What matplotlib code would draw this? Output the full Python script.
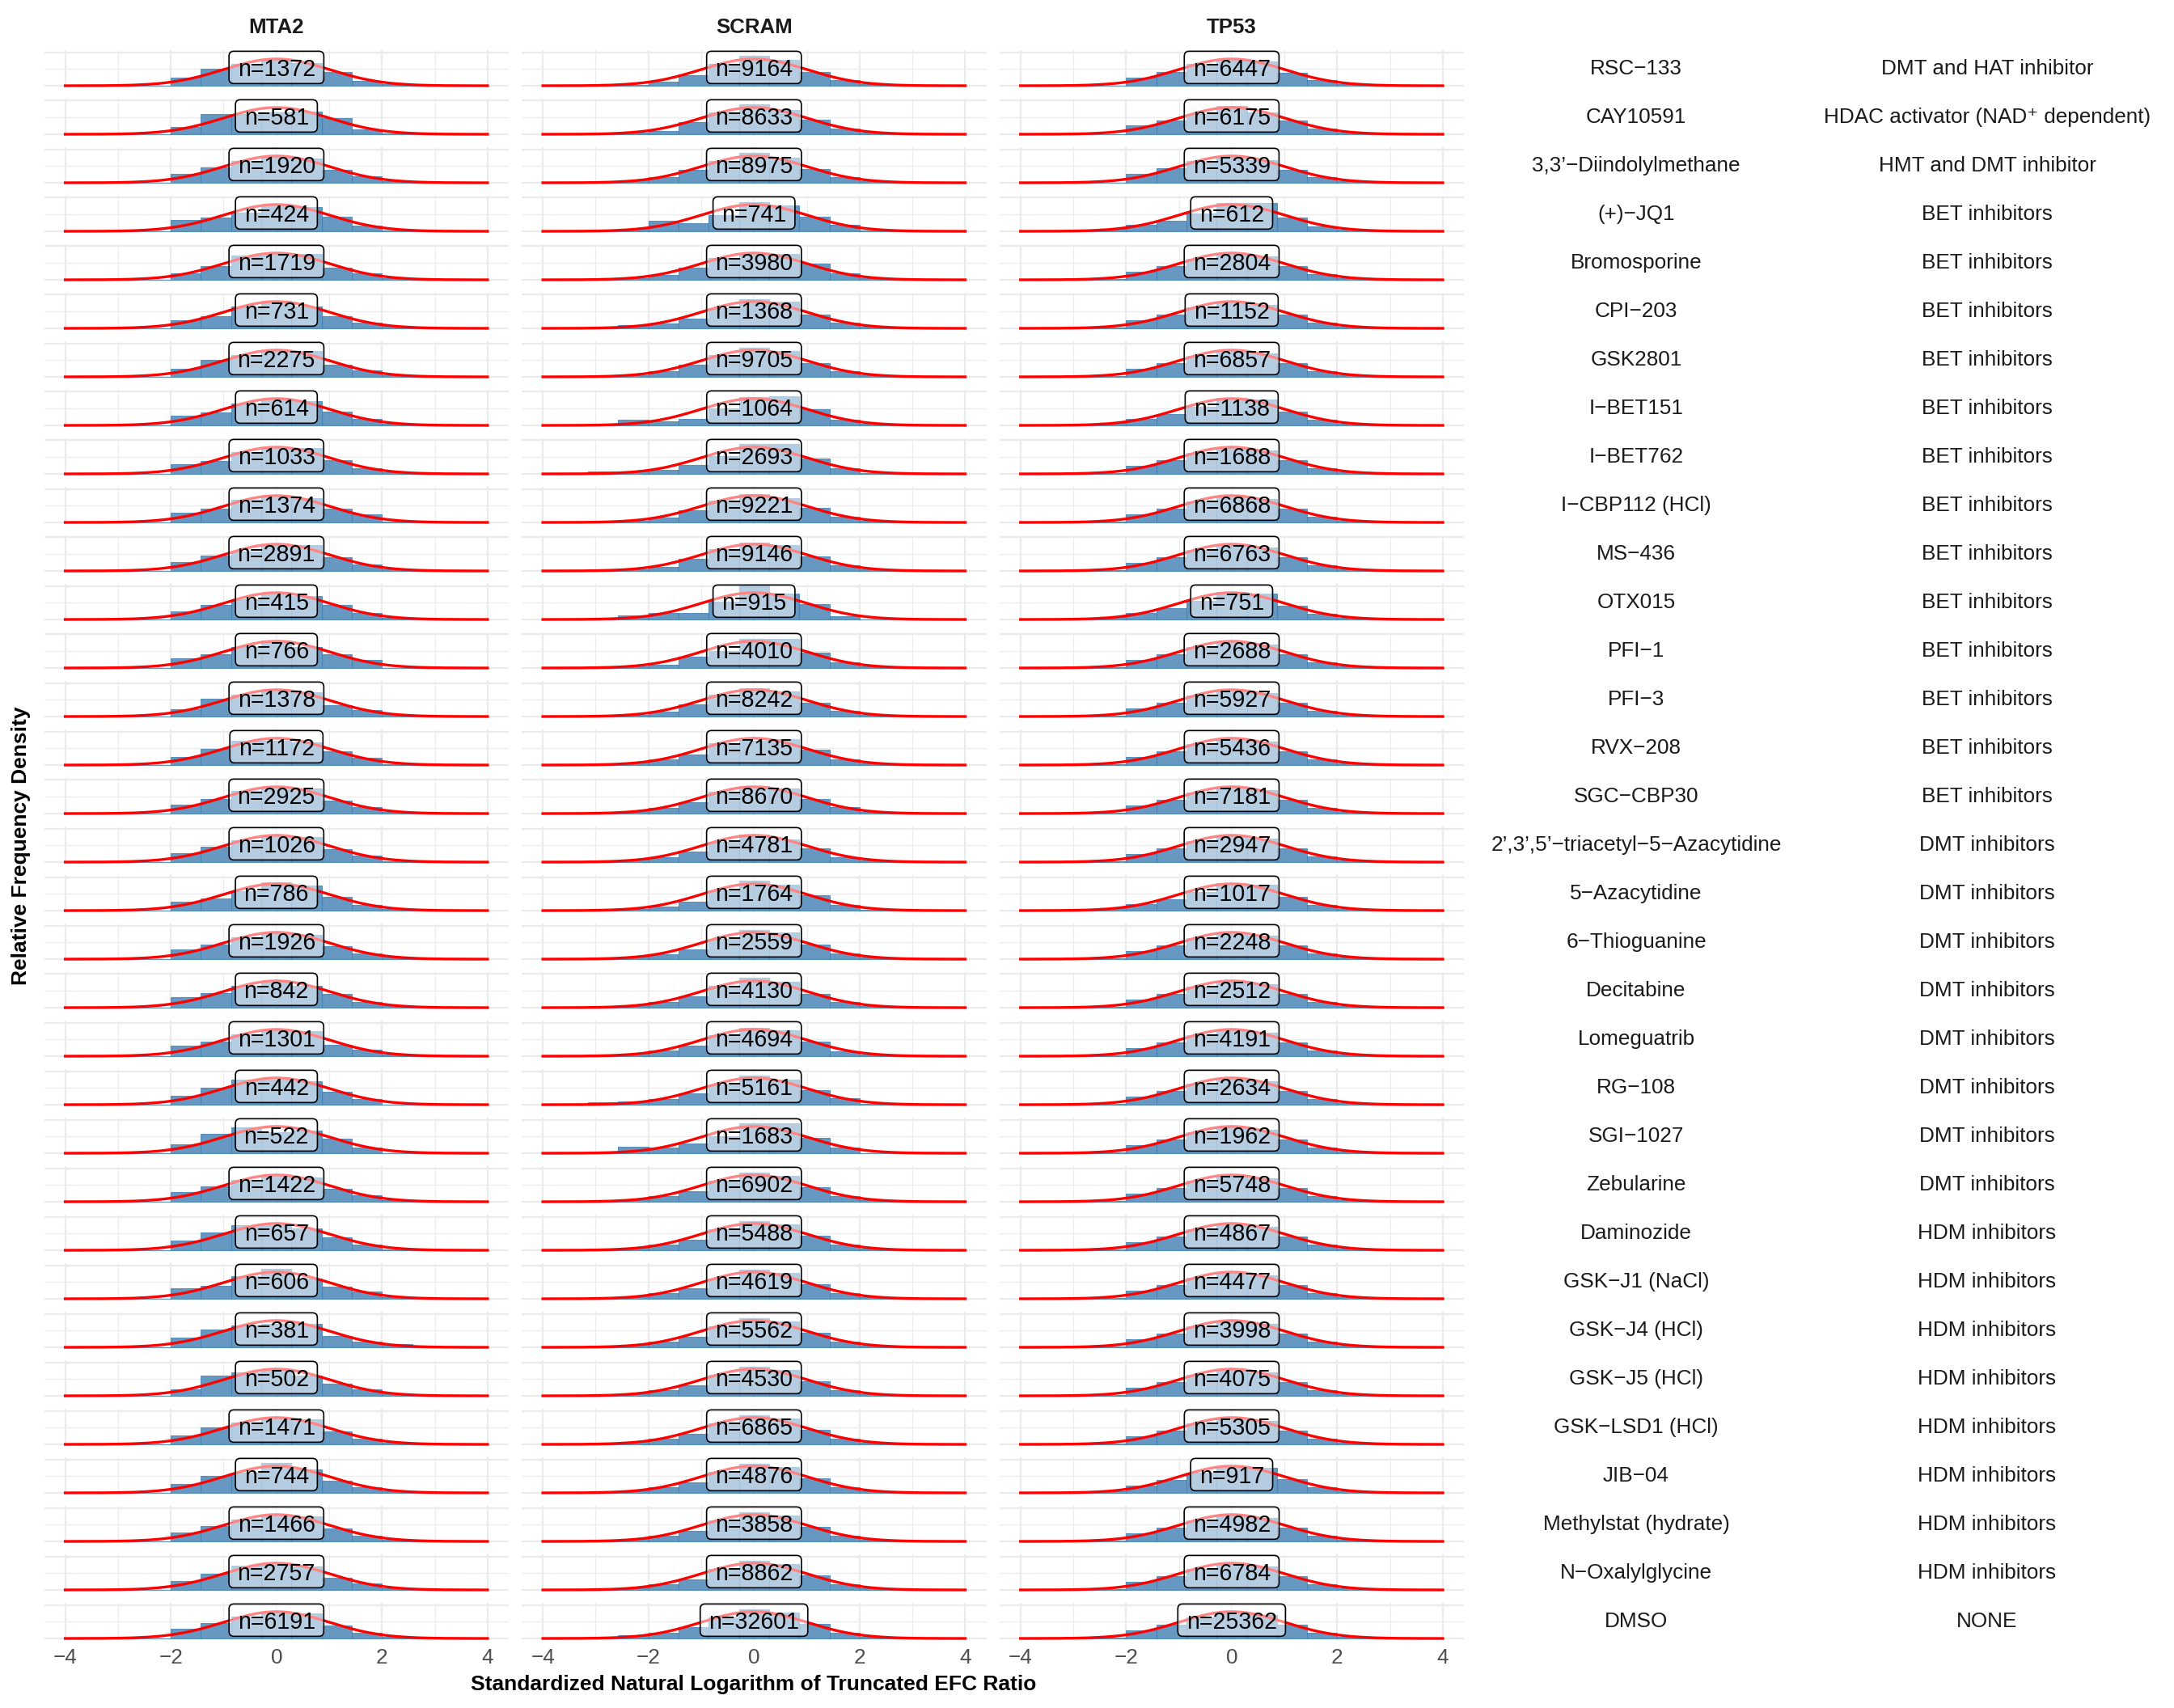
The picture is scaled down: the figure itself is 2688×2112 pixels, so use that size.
import numpy as np
import matplotlib.pyplot as plt
from matplotlib.patches import FancyBboxPatch
from scipy.stats import norm

plt.rcParams['font.family'] = ['Liberation Sans', 'DejaVu Sans']

genes = ['MTA2', 'SCRAM', 'TP53']

compounds = ['RSC\u2212133', 'CAY10591', '3,3\u2019\u2212Diindolylmethane', '(+)\u2212JQ1',
             'Bromosporine', 'CPI\u2212203', 'GSK2801', 'I\u2212BET151', 'I\u2212BET762',
             'I\u2212CBP112 (HCl)', 'MS\u2212436', 'OTX015', 'PFI\u22121', 'PFI\u22123',
             'RVX\u2212208', 'SGC\u2212CBP30', '2\u2019,3\u2019,5\u2019\u2212triacetyl\u22125\u2212Azacytidine',
             '5\u2212Azacytidine', '6\u2212Thioguanine', 'Decitabine', 'Lomeguatrib', 'RG\u2212108',
             'SGI\u22121027', 'Zebularine', 'Daminozide', 'GSK\u2212J1 (NaCl)', 'GSK\u2212J4 (HCl)',
             'GSK\u2212J5 (HCl)', 'GSK\u2212LSD1 (HCl)', 'JIB\u221204', 'Methylstat (hydrate)',
             'N\u2212Oxalylglycine', 'DMSO']

classes = (['DMT and HAT inhibitor', 'HDAC activator (NAD\u207a dependent)', 'HMT and DMT inhibitor']
           + ['BET inhibitors'] * 13 + ['DMT inhibitors'] * 8 + ['HDM inhibitors'] * 8 + ['NONE'])

n_mta2 = [1372, 581, 1920, 424, 1719, 731, 2275, 614, 1033, 1374, 2891, 415, 766, 1378, 1172,
          2925, 1026, 786, 1926, 842, 1301, 442, 522, 1422, 657, 606, 381, 502, 1471, 744,
          1466, 2757, 6191]
n_scram = [9164, 8633, 8975, 741, 3980, 1368, 9705, 1064, 2693, 9221, 9146, 915, 4010, 8242,
           7135, 8670, 4781, 1764, 2559, 4130, 4694, 5161, 1683, 6902, 5488, 4619, 5562, 4530,
           6865, 4876, 3858, 8862, 32601]
n_tp53 = [6447, 6175, 5339, 612, 2804, 1152, 6857, 1138, 1688, 6868, 6763, 751, 2688, 5927,
          5436, 7181, 2947, 1017, 2248, 2512, 4191, 2634, 1962, 5748, 4867, 4477, 3998, 4075,
          5305, 917, 4982, 6784, 25362]

# histogram bins, width 4/7, edges from -22/7 to 22/7
bin_edges = np.arange(-11, 12, 2) * 2 / 7

# bar heights (density) per compound, one list per bin
dens_mta2 = [
    [0, 0, .125, .25, .32, .38, .34, .20, .07, .02, 0],
    [0, 0, .11, .30, .30, .33, .34, .24, .07, .01, 0],
    [0, 0, .135, .23, .33, .38, .36, .19, .094, .03, 0],
    [0, 0, .17, .20, .28, .40, .36, .22, .083, .01, 0],
    [0, 0, .10, .21, .36, .39, .38, .18, .10, .03, 0],
    [0, 0, .12, .18, .33, .41, .33, .18, .083, .04, 0],
    [0, 0, .12, .25, .32, .39, .38, .18, .094, .02, 0],
    [0, 0, .14, .19, .33, .40, .36, .20, .10, .03, 0],
    [0, 0, .15, .19, .32, .40, .39, .20, .083, .02, 0],
    [0, 0, .146, .20, .34, .38, .36, .20, .115, .01, 0],
    [0, 0, .135, .23, .29, .40, .38, .20, .10, .02, 0],
    [0, 0, .12, .22, .30, .38, .35, .22, .10, .02, 0],
    [0, 0, .15, .21, .31, .41, .31, .20, .12, 0, 0],
    [0, 0, .11, .26, .33, .38, .36, .17, .10, .04, 0],
    [0, 0, .12, .24, .36, .36, .34, .21, .11, .01, 0],
    [0, 0, .135, .22, .34, .39, .37, .19, .10, .02, 0],
    [0, 0, .135, .23, .33, .38, .37, .195, .10, .01, 0],
    [0, 0, .135, .18, .29, .42, .37, .21, .09, .03, 0],
    [0, 0, .14, .22, .32, .38, .36, .195, .09, .04, 0],
    [0, 0, .16, .22, .32, .39, .32, .21, .09, .04, 0],
    [0, 0, .16, .22, .32, .38, .37, .17, .10, .03, 0],
    [0, 0, .13, .25, .37, .37, .35, .195, .09, 0, 0],
    [0, 0, .135, .29, .38, .31, .34, .22, .08, 0, 0],
    [0, 0, .15, .23, .32, .40, .36, .19, .10, .02, 0],
    [0, 0, .145, .27, .37, .37, .32, .19, .09, .01, 0],
    [0, 0, .16, .19, .34, .44, .30, .185, .11, .02, 0],
    [0, 0, .145, .27, .33, .35, .35, .17, .09, .05, 0],
    [0, 0, .10, .30, .35, .38, .30, .18, .10, .04, 0],
    [0, 0, .13, .25, .32, .38, .37, .19, .09, .02, 0],
    [0, 0, .13, .25, .30, .44, .35, .175, .085, .02, 0],
    [0, 0, .135, .23, .32, .39, .37, .19, .09, .02, 0],
    [0, 0, .135, .235, .36, .37, .35, .18, .10, .02, 0],
    [0, 0, .145, .23, .32, .39, .37, .19, .085, .02, 0],
]

dens_scram = [
    [.005, .015, .06, .16, .32, .44, .39, .21, .08, .02, 0],
    [.005, .02, .05, .18, .32, .45, .36, .22, .09, .03, 0],
    [0, .04, .08, .19, .32, .44, .37, .21, .08, .02, 0],
    [0, .04, .16, .12, .24, .43, .38, .22, .10, .01, 0],
    [0, .02, .075, .18, .32, .40, .39, .24, .10, .03, 0],
    [.02, .05, .075, .15, .30, .43, .40, .205, .09, .02, 0],
    [0, .03, .09, .18, .32, .43, .38, .205, .08, .03, 0],
    [0, .08, .065, .10, .25, .42, .43, .24, .09, .02, 0],
    [.04, .04, .06, .13, .26, .45, .44, .23, .08, .01, 0],
    [.005, .03, .075, .175, .32, .42, .36, .22, .08, .02, 0],
    [.025, .03, .06, .18, .32, .42, .38, .22, .08, .02, 0],
    [.03, .06, .10, .10, .26, .51, .39, .225, .05, 0, 0],
    [.02, .02, .05, .17, .25, .43, .43, .23, .08, .02, 0],
    [.005, .03, .075, .175, .32, .42, .375, .21, .08, .02, 0],
    [.01, .04, .08, .16, .32, .36, .39, .23, .09, .02, 0],
    [.03, .04, .09, .17, .32, .41, .37, .22, .10, .02, 0],
    [.03, .04, .075, .16, .30, .41, .34, .205, .075, .03, 0],
    [.03, .03, .065, .135, .30, .44, .38, .23, .08, .01, 0],
    [.03, .04, .075, .15, .30, .43, .40, .22, .085, .02, 0],
    [.01, .04, .08, .17, .32, .44, .39, .20, .08, .02, 0],
    [.03, .04, .08, .16, .31, .42, .39, .215, .075, .02, 0],
    [.04, .05, .08, .17, .30, .43, .37, .215, .10, .01, 0],
    [0, .10, .085, .14, .25, .44, .44, .23, .08, 0, 0],
    [.02, .04, .08, .16, .31, .43, .39, .22, .08, .02, 0],
    [.02, .04, .08, .16, .31, .43, .39, .22, .08, .02, 0],
    [.03, .04, .08, .16, .30, .43, .39, .22, .08, .02, 0],
    [.02, .04, .08, .16, .31, .43, .39, .22, .08, .02, 0],
    [.02, .04, .08, .16, .31, .43, .39, .22, .08, .02, 0],
    [.02, .04, .08, .16, .31, .43, .39, .22, .08, .02, 0],
    [.02, .04, .08, .16, .31, .43, .39, .22, .08, .02, 0],
    [.02, .04, .08, .16, .31, .43, .39, .22, .08, .02, 0],
    [.02, .04, .08, .16, .31, .43, .39, .22, .08, .02, 0],
    [.0125, .045, .08, .17, .31, .43, .39, .22, .08, .02, 0],
]

tp53_typical = [0, .01, .12, .21, .31, .39, .35, .20, .08, .025, 0]
tp53_left_tail = [0, .04, .10, .17, .28, .41, .39, .20, .08, .025, 0]
dens_tp53 = [
    [0, 0, .115, .205, .32, .40, .36, .19, .09, .025, 0],
    [0, 0, .135, .20, .30, .42, .33, .20, .08, .025, 0],
    [0, 0, .135, .22, .32, .40, .34, .19, .08, .025, 0],
    [0, .04, .095, .16, .26, .42, .42, .205, .07, .025, 0],
    tp53_typical, tp53_typical, tp53_typical,
    tp53_left_tail,
    tp53_typical, tp53_typical, tp53_typical,
    tp53_left_tail,
    tp53_typical, tp53_typical, tp53_typical, tp53_typical, tp53_typical,
    tp53_left_tail,
    tp53_typical, tp53_typical, tp53_typical, tp53_typical, tp53_typical, tp53_typical,
    tp53_typical, tp53_typical, tp53_typical, tp53_typical, tp53_typical,
    [0, .025, .11, .19, .30, .40, .37, .20, .08, .025, 0],
    tp53_typical, tp53_typical, tp53_typical,
]

W, H = 2688, 2112
DPI = 200
fig = plt.figure(figsize=(W / DPI, H / DPI), dpi=DPI)

col_left = [54.5, 645.0, 1235.6]
panel_w = 574.5
py = 83.0          # pixels per density unit
row0, row_step = 106.0, 60.0

centers = (bin_edges[:-1] + bin_edges[1:]) / 2
xs = np.linspace(-4, 4, 400)
all_n = [n_mta2, n_scram, n_tp53]
all_dens = [dens_mta2, dens_scram, dens_tp53]
labels = []

for r in range(len(compounds)):
    base = row0 + row_step * r
    top = base - 0.525 * py
    bottom = base + 0.025 * py
    for c in range(3):
        ax = fig.add_axes([col_left[c] / W, 1 - bottom / H, panel_w / W, (bottom - top) / H])
        ax.set_xlim(-4.4, 4.4)
        ax.set_ylim(-0.025, 0.525)
        ax.set_xticks([-4, -2, 0, 2, 4])
        ax.set_xticks([-3, -1, 1, 3], minor=True)
        ax.set_yticks([0, 0.5])
        ax.set_yticks([0.25], minor=True)
        ax.grid(which='major', color='#EBEBEB', lw=0.8)
        ax.grid(which='minor', color='#EBEBEB', lw=0.4)
        ax.set_axisbelow(True)
        for s in ax.spines.values():
            s.set_visible(False)
        ax.tick_params(which='both', length=0, labelleft=False,
                       labelbottom=(r == len(compounds) - 1),
                       labelsize=9.4, labelcolor='#4D4D4D', pad=3.5)

        ax.hist(centers, bins=bin_edges, weights=all_dens[c][r], color='steelblue',
                alpha=0.82, edgecolor='steelblue', linewidth=0.4, zorder=2)
        ax.plot(xs, norm.pdf(xs), color='red', lw=1.2, zorder=3)
        t = ax.text(0, 0.273, f'n={all_n[c][r]}', ha='center', va='center_baseline',
                    fontsize=10.3, color='black', zorder=6)
        labels.append((ax, t))

        if r == 0:
            cx = (col_left[c] + panel_w / 2) / W
            fig.text(cx, 1 - 34 / H, genes[c], ha='center', va='center',
                     fontsize=9.3, fontweight='bold', color='#1A1A1A')

    yc = 1 - (base - 21) / H
    fig.text(2023 / W, yc, compounds[r], ha='center', va='center', fontsize=9.4, color='#1A1A1A')
    fig.text(2457 / W, yc, classes[r], ha='center', va='center', fontsize=9.4, color='#1A1A1A')

# label boxes sized around the text, like ggplot labels
renderer = fig.canvas.get_renderer()
for ax, t in labels:
    bb = t.get_window_extent(renderer)
    cy = ax.transData.transform((0, 0.273))[1]
    box_h, pad_x = 40, 10.5
    patch = FancyBboxPatch((bb.x0 - pad_x, cy - box_h / 2), bb.width + 2 * pad_x, box_h,
                           boxstyle='round,pad=0,rounding_size=6', transform=None,
                           facecolor=(1, 1, 1, 0.52), edgecolor='black', lw=0.6, zorder=5)
    ax.add_artist(patch)

fig.text(932 / W, 1 - 2083 / H, 'Standardized Natural Logarithm of Truncated EFC Ratio',
         ha='center', va='center', fontsize=9.5, fontweight='bold')
fig.text(26 / W, 1 - 1046 / H, 'Relative Frequency Density', rotation=90,
         ha='center', va='center', fontsize=9.5, fontweight='bold')

fig.savefig('out.png', dpi=DPI, facecolor='white')
